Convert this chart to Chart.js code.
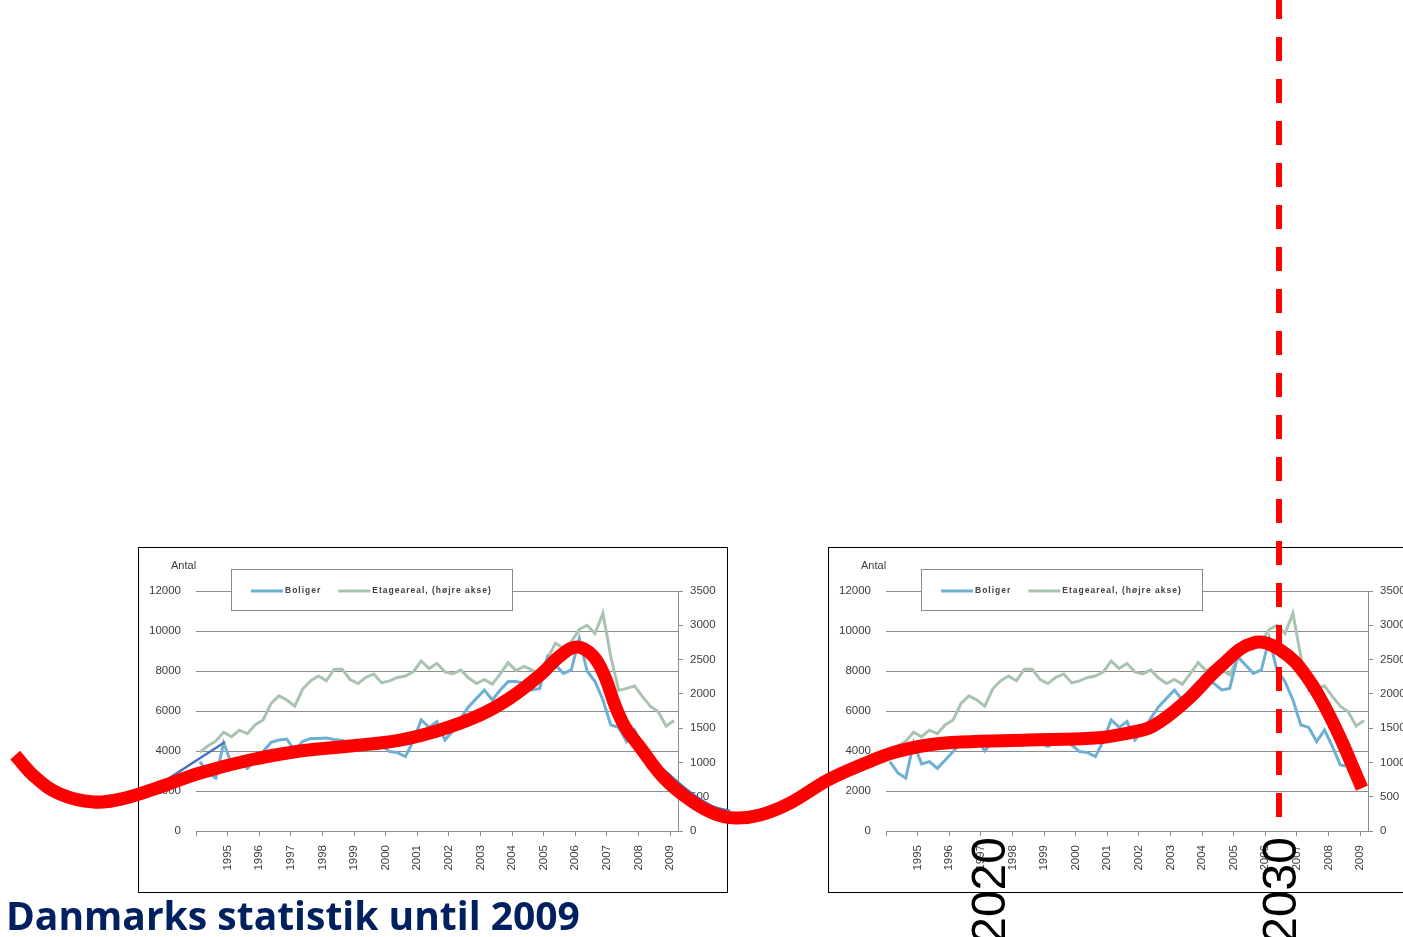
<!DOCTYPE html>
<html>
<head>
<meta charset="utf-8">
<title>Danmarks statistik until 2009</title>
<script src="https://cdn.jsdelivr.net/npm/chart.js@4.4.1/dist/chart.umd.min.js"></script>
<style>
  html, body { margin: 0; padding: 0; background: #fff; overflow: hidden; width: 1403px; height: 937px; }
  .panel { position: absolute; top: 547px; width: 590px; height: 346px; background: #fff; }
  .panel canvas { position: absolute; left: 0; top: 0; }
  .frame { position: absolute; left: 0; top: 0; width: 590px; height: 346px; box-sizing: border-box; border: 1px solid #000; pointer-events: none; }
  #overlay { position: absolute; left: 0; top: 0; }
</style>
</head>
<body>
<div class="panel" style="left:138px"><canvas id="panelA" width="590" height="346"></canvas><div class="frame"></div></div>
<div class="panel" style="left:828px"><canvas id="panelB" width="590" height="346"></canvas><div class="frame"></div></div>
<canvas id="overlay" width="1403" height="937"></canvas>
<script>
// ---- Quarterly construction figures, 1994 Q1 .. 2009 Q1 ----
const seriesNames = ['Boliger', 'Etageareal, (højre akse)'];
const yAxisCaption = 'Antal';
const yearLabels = ['1995', '1996', '1997', '1998', '1999', '2000', '2001', '2002',
                    '2003', '2004', '2005', '2006', '2007', '2008', '2009'];
const quartersPerYear = 4;
const quarterSpan = 61;

// Boliger (left axis, number of dwellings)
const boliger = [
  3470, 2900, 2650, 4400, 3350, 3470, 3130, 3550, 3970, 4430,
  4550, 4600, 4000, 4470, 4630, 4630, 4650, 4580, 4530, 4400,
  4220, 4450, 4600, 4300, 3970, 3920, 3720, 4500, 5550, 5180,
  5470, 4550, 5000, 5630, 6220, 6630, 7050, 6550, 7050, 7470,
  7470, 7380, 7050, 7130, 8720, 8300, 7880, 8050, 9630, 8000,
  7470, 6550, 5300, 5180, 4470, 5050, 4220, 3300, 3220, 2900,
  2500
];

// Etageareal (right axis)
const etageareal = [
  1150, 1240, 1310, 1440, 1375, 1470, 1420, 1550, 1620, 1860,
  1970, 1910, 1820, 2070, 2190, 2260, 2190, 2360, 2360, 2210,
  2150, 2240, 2290, 2160, 2190, 2240, 2260, 2320, 2480, 2370,
  2445, 2320, 2290, 2350, 2230, 2150, 2210, 2140, 2290, 2455,
  2340, 2400, 2350, 2275, 2520, 2740, 2660, 2760, 2940, 3000,
  2880, 3175, 2540, 2050, 2080, 2115, 1960, 1820, 1740, 1530,
  1610
];

const leftAxisMax = 12000, leftAxisStep = 2000;
const rightAxisMax = 3500, rightAxisStep = 500;

// ---- Long-cycle sketch drawn across both panels (timeline in years, level 0..100) ----
const cycleYears = [
  1986.57, 1987.25, 1988.11, 1989.25, 1990.35, 1991.55, 1992.92, 1994.64, 1996.36, 1998.08,
  1999.80, 2001.17, 2002.54, 2003.58, 2004.61, 2005.29, 2005.88, 2006.43, 2006.84, 2007.18,
  2007.53, 2008.04, 2008.83, 2009.76, 2010.62, 2011.31, 2012.17, 2013.20, 2014.50, 2015.64,
  2016.81, 2017.94, 2019.07, 2021.38, 2023.68, 2024.81, 2025.67, 2026.84, 2027.97, 2029.11,
  2030.04, 2030.96, 2031.86, 2032.85
];
const cycleLevels = [
  19.42, 17.08, 15.26, 14.41, 14.83, 16.01, 17.50, 18.89, 19.85, 20.38,
  21.02, 22.09, 23.69, 25.51, 27.96, 29.99, 30.95, 29.99, 27.75, 24.76,
  22.41, 20.28, 17.08, 14.62, 13.13, 12.70, 13.02, 14.30, 16.76, 18.36,
  19.74, 20.49, 20.81, 21.02, 21.24, 21.77, 22.52, 25.29, 28.82, 31.38,
  30.63, 27.75, 22.84, 15.90
];
// thin trend traces showing from under the thick curve
const traceAYears = [1990.86, 1993.78];
const traceALevels = [14.94, 20.81];
const traceBYears = [2008.83, 2009.76, 2010.52, 2011.14];
const traceBLevels = [17.93, 15.47, 13.98, 13.45];

const timelineStart = 1986.05, timelineEnd = 2034.26;
const markYears = [2020, 2030];
const cutYear = 2030;
const cutFromLevel = 12.8;
const titleText = 'Danmarks statistik until 2009';

// ---- shared styles ----
const axisGray = '#8c8c8c';
const labelGray = '#3c3c3c';
const tickFont = { family: '"Liberation Sans", Arial, sans-serif', size: 11.5 };
const boligerColor = '#6EB0D4';
const etagColor = '#A8C4B0';

const tickQuarters = [0, ...yearLabels.map((_, k) => (k + 1) * quartersPerYear)];
const toPoints = arr => arr.map((v, i) => ({ x: i + 0.5, y: v }));
const zipPoints = (xs, ys) => xs.map((x, i) => ({ x, y: ys[i] }));
const plainNumber = v => String(v);

// axis caption and boxed legend of the embedded chart
const panelDecor = {
  id: 'panelDecor',
  afterDraw(chart) {
    const ctx = chart.ctx, a = chart.chartArea;
    ctx.save();
    ctx.font = '11px "Liberation Sans", Arial, sans-serif';
    ctx.fillStyle = labelGray;
    ctx.textAlign = 'left';
    ctx.textBaseline = 'middle';
    ctx.fillText(yAxisCaption, a.left - 25, a.top - 25);

    const bx = a.left + 35, by = a.top - 22, bw = 281, bh = 41;
    ctx.fillStyle = '#fff';
    ctx.fillRect(bx, by, bw, bh);
    ctx.strokeStyle = axisGray;
    ctx.lineWidth = 1;
    ctx.strokeRect(bx + 0.5, by + 0.5, bw, bh);

    ctx.font = 'bold 8.5px "Liberation Sans", Arial, sans-serif';
    ctx.letterSpacing = '1px';
    ctx.fillStyle = '#404040';
    let x = bx + 20;
    const cy = by + 22;
    chart.data.datasets.forEach(ds => {
      ctx.strokeStyle = ds.borderColor;
      ctx.lineWidth = 3;
      ctx.beginPath();
      ctx.moveTo(x, cy);
      ctx.lineTo(x + 32, cy);
      ctx.stroke();
      x += 34;
      ctx.fillText(ds.label, x, cy);
      x += ctx.measureText(ds.label).width + 17;
    });
    ctx.restore();
  }
};

function makePanel(id) {
  return new Chart(document.getElementById(id), {
    type: 'line',
    data: {
      datasets: [
        { label: seriesNames[0], data: toPoints(boliger), yAxisID: 'y',
          borderColor: boligerColor, borderWidth: 3, pointRadius: 0, tension: 0 },
        { label: seriesNames[1], data: toPoints(etageareal), yAxisID: 'y1',
          borderColor: etagColor, borderWidth: 3, pointRadius: 0, tension: 0 }
      ]
    },
    options: {
      responsive: false,
      animation: false,
      devicePixelRatio: 1,
      layout: { padding: { top: 44, left: 0, right: 0, bottom: 0 } },
      plugins: { legend: { display: false }, tooltip: { enabled: false } },
      scales: {
        x: {
          type: 'linear', min: 0, max: quarterSpan,
          afterBuildTicks: s => { s.ticks = tickQuarters.map(v => ({ value: v })); },
          afterFit: s => { s.height = 62; },
          grid: { drawOnChartArea: false, drawTicks: true, tickLength: 5, color: axisGray },
          border: { display: true, color: axisGray },
          ticks: {
            autoSkip: false, minRotation: 90, maxRotation: 90, padding: 9,
            color: labelGray, font: tickFont,
            callback: (v, i) => (i === 0 ? '' : yearLabels[i - 1])
          }
        },
        y: {
          position: 'left', min: 0, max: leftAxisMax,
          afterFit: s => { s.width = 58; },
          grid: { color: axisGray, drawTicks: false },
          border: { display: false },
          ticks: { stepSize: leftAxisStep, padding: 15, color: labelGray, font: tickFont,
                   callback: plainNumber }
        },
        y1: {
          position: 'right', min: 0, max: rightAxisMax,
          afterFit: s => { s.width = 50; },
          grid: { drawOnChartArea: false, drawTicks: true, tickLength: 5, color: axisGray },
          border: { display: true, color: axisGray },
          ticks: { stepSize: rightAxisStep, padding: 7, color: labelGray, font: tickFont,
                   callback: plainNumber }
        }
      }
    },
    plugins: [panelDecor]
  });
}

makePanel('panelA');
makePanel('panelB');

// year marks and heading on the overlay
const overlayText = {
  id: 'overlayText',
  afterDatasetsDraw(chart) {
    const ctx = chart.ctx, xs = chart.scales.x;
    ctx.save();
    const size = 48;
    ctx.font = size + 'px "Liberation Sans", Arial, sans-serif';
    ctx.fillStyle = '#000';
    ctx.textAlign = 'right';
    ctx.textBaseline = 'alphabetic';
    markYears.forEach(yr => {
      const px = xs.getPixelForValue(yr);
      ctx.save();
      ctx.translate(px + size * 0.358, 837);
      ctx.rotate(-Math.PI / 2);
      ctx.fillText(String(yr), 0, 0);
      ctx.restore();
    });
    ctx.font = 'bold 39px "Open Sans", sans-serif';
    ctx.fillStyle = '#002060';
    ctx.textAlign = 'left';
    ctx.fillText(titleText, 6, 930);
    ctx.restore();
  }
};

new Chart(document.getElementById('overlay'), {
  type: 'line',
  data: {
    datasets: [
      { data: zipPoints(cycleYears, cycleLevels), borderColor: '#FF0000', borderWidth: 13,
        borderCapStyle: 'butt', borderJoinStyle: 'round', pointRadius: 0,
        tension: 0.4, clip: false, order: 1 },
      { data: zipPoints(traceAYears, traceALevels), borderColor: '#4472C4', borderWidth: 2.5,
        pointRadius: 0, tension: 0, clip: false, order: 3 },
      { data: zipPoints(traceBYears, traceBLevels), borderColor: '#4472C4', borderWidth: 2.5,
        pointRadius: 0, tension: 0.4, clip: false, order: 3 },
      { data: [{ x: cutYear, y: cutFromLevel }, { x: cutYear, y: 100 }], borderColor: '#FF0000',
        borderWidth: 6, borderDash: [24, 18], borderCapStyle: 'butt', pointRadius: 0,
        clip: false, order: 0 }
    ]
  },
  options: {
    responsive: false,
    animation: false,
    devicePixelRatio: 1,
    layout: { padding: 0 },
    plugins: { legend: { display: false }, tooltip: { enabled: false } },
    scales: {
      x: { type: 'linear', min: timelineStart, max: timelineEnd, display: false },
      y: { type: 'linear', min: 0, max: 100, display: false }
    }
  },
  plugins: [overlayText]
});
</script>
</body>
</html>
